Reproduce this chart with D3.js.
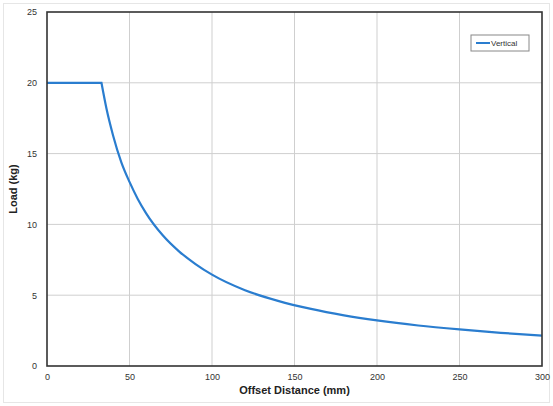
<!DOCTYPE html>
<html>
<head>
<meta charset="utf-8">
<script src="https://cdn.jsdelivr.net/npm/d3@7"></script>
<style>
  body { margin: 0; background: #fff; }
  text { font-family: "Liberation Sans", Arial, sans-serif; }
</style>
</head>
<body>
<svg id="chart" width="553" height="406"></svg>
<script>
// offset distance (mm) and load (kg)
let offsets = [0, 33, 36, 40, 45, 50, 55, 60, 70, 80, 90, 100, 120, 140, 160, 180, 200, 225, 250, 275, 300];
let loads   = [20, 20, 18.2, 16.3, 14.4, 13.0, 11.8, 10.8, 9.25, 8.1, 7.2, 6.45, 5.35, 4.6, 4.03, 3.58, 3.22, 2.86, 2.58, 2.34, 2.15];
let xTicks = [0, 50, 100, 150, 200, 250, 300];
let yTicks = [0, 5, 10, 15, 20, 25];
let seriesName = "Vertical";

let width = 553, height = 406;
let margin = ({top: 12, right: 11, bottom: 40, left: 47});

let svg = d3.select("#chart");

// faint outer frame
svg.append("rect")
    .attr("x", 3.5).attr("y", 3.5)
    .attr("width", width - 7).attr("height", height - 7)
    .attr("fill", "none")
    .attr("stroke", "#e6e6e6");

let x = d3.scaleLinear().domain([0, 300]).range([margin.left, width - margin.right]);
let y = d3.scaleLinear().domain([0, 25]).range([height - margin.bottom, margin.top]);

// grid lines
svg.append("g").selectAll("line")
    .data(xTicks.slice(1, -1))
    .enter().append("line")
    .attr("x1", d => x(d)).attr("x2", d => x(d))
    .attr("y1", y(0)).attr("y2", y(25))
    .attr("stroke", "#cfcfcf").attr("stroke-width", 1);

svg.append("g").selectAll("line")
    .data(yTicks.slice(1, -1))
    .enter().append("line")
    .attr("y1", d => y(d)).attr("y2", d => y(d))
    .attr("x1", x(0)).attr("x2", x(300))
    .attr("stroke", "#cfcfcf").attr("stroke-width", 1);

// axes (labels only, no tick marks)
let xAxis = svg.append("g")
    .attr("transform", "translate(0," + (y(0) + 2) + ")")
    .call(d3.axisBottom(x).tickValues(xTicks).tickSize(0).tickPadding(6));
let yAxis = svg.append("g")
    .attr("transform", "translate(" + (x(0) - 2) + ",0)")
    .call(d3.axisLeft(y).tickValues(yTicks).tickSize(0).tickPadding(8));
[xAxis, yAxis].forEach(a => {
    a.select(".domain").remove();
    a.selectAll("text").style("font-size", "9px").style("fill", "#333");
});

// the curve: flat part straight, decaying part smoothed
let points = offsets.map((d, i) => [d, loads[i]]);
let flatLine = d3.line().x(d => x(d[0])).y(d => y(d[1]));
let decayLine = d3.line().x(d => x(d[0])).y(d => y(d[1])).curve(d3.curveMonotoneX);

svg.append("path")
    .attr("d", flatLine(points.slice(0, 2)) + decayLine(points.slice(1)).replace(/^M/, "L"))
    .attr("fill", "none")
    .attr("stroke", "#2a7dcf")
    .attr("stroke-width", 2.2)
    .attr("stroke-linejoin", "miter");

// plot border
svg.append("rect")
    .attr("x", x(0)).attr("y", y(25))
    .attr("width", x(300) - x(0)).attr("height", y(0) - y(25))
    .attr("fill", "none")
    .attr("stroke", "#333")
    .attr("stroke-width", 1.6);

// legend
let legend = svg.append("g").attr("transform", "translate(471,35)");
legend.append("rect")
    .attr("width", 58).attr("height", 16)
    .attr("fill", "#fff")
    .attr("stroke", "#888").attr("stroke-width", 1);
legend.append("line")
    .attr("x1", 5).attr("x2", 19).attr("y1", 8).attr("y2", 8)
    .attr("stroke", "#2a7dcf").attr("stroke-width", 2);
legend.append("text")
    .attr("x", 20).attr("y", 11)
    .text(seriesName)
    .style("font-size", "8px").style("fill", "#333");

// axis titles
svg.append("text")
    .attr("x", (x(0) + x(300)) / 2).attr("y", 394)
    .attr("text-anchor", "middle")
    .style("font-size", "11px").style("font-weight", "bold").style("fill", "#222")
    .text("Offset Distance (mm)");

svg.append("text")
    .attr("transform", "translate(17," + ((y(0) + y(25)) / 2) + ") rotate(-90)")
    .attr("text-anchor", "middle")
    .style("font-size", "11px").style("font-weight", "bold").style("fill", "#222")
    .text("Load (kg)");
</script>
</body>
</html>
